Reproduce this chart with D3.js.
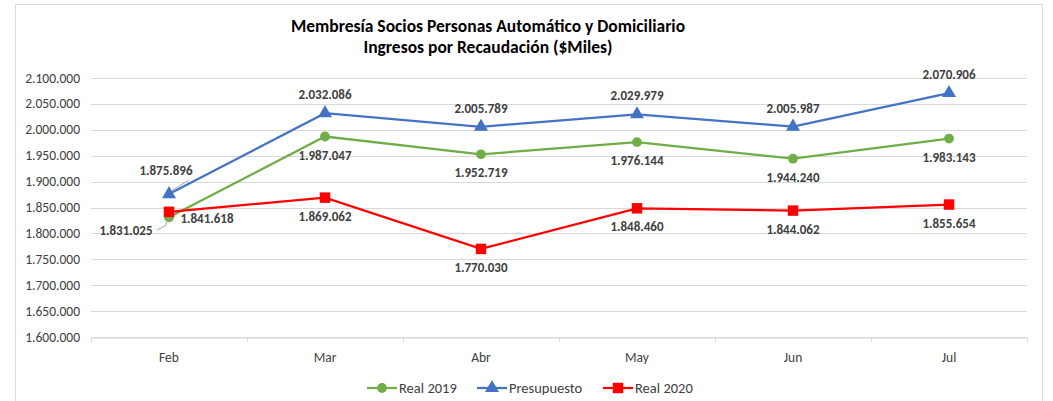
<!DOCTYPE html>
<html>
<head>
<meta charset="utf-8">
<script src="https://cdnjs.cloudflare.com/ajax/libs/d3/7.8.5/d3.min.js"></script>
<style>
  body { margin: 0; background: #fff; }
  svg text { font-family: Calibri, Carlito, "Liberation Sans", Arial, sans-serif; }
</style>
</head>
<body>
<svg id="chart" width="1053" height="401"></svg>
<script>
// data
var months = ["Feb", "Mar", "Abr", "May", "Jun", "Jul"];
var real2019 = [1831025, 1987047, 1952719, 1976144, 1944240, 1983143];
var presupuesto = [1875896, 2032086, 2005789, 2029979, 2005987, 2070906];
var real2020 = [1841618, 1869062, 1770030, 1848460, 1844062, 1855654];
var yTicks = [1600000, 1650000, 1700000, 1750000, 1800000, 1850000, 1900000, 1950000, 2000000, 2050000, 2100000];

var svg = d3.select("#chart");

// chart frame
svg.append("rect")
    .attr("x", 15.5).attr("y", 4.5)
    .attr("width", 1027).attr("height", 400)
    .attr("fill", "#fff").attr("stroke", "#d9d9d9");

var plotLeft = 91, plotRight = 1027, plotTop = 78, plotBottom = 337;

var x = d3.scaleBand().domain(months).range([plotLeft, plotRight]);
var y = d3.scaleLinear().domain([1600000, 2100000]).range([plotBottom, plotTop]);

// format 1.600.000
var fmt = function (v) {
    return d3.format(",")(v).replace(/,/g, ".");
};

// title
var title = svg.append("text")
    .attr("text-anchor", "middle")
    .attr("font-weight", "bold")
    .attr("font-size", 17.5)
    .attr("fill", "#000");
title.append("tspan").attr("x", 488).attr("y", 32).text("Membresía Socios Personas Automático y Domiciliario");
title.append("tspan").attr("x", 488).attr("y", 53).text("Ingresos por Recaudación ($Miles)");

// gridlines
svg.append("g")
    .selectAll("line")
    .data(yTicks)
    .join("line")
    .attr("x1", plotLeft).attr("x2", plotRight)
    .attr("y1", function (d) { return Math.round(y(d)) + 0.5; })
    .attr("y2", function (d) { return Math.round(y(d)) + 0.5; })
    .attr("stroke", "#d9d9d9")
    .attr("stroke-width", 1);

// y labels
svg.append("g")
    .selectAll("text")
    .data(yTicks)
    .join("text")
    .attr("x", 80)
    .attr("y", function (d) { return y(d) + 4.5; })
    .attr("text-anchor", "end")
    .attr("font-size", 13.5)
    .attr("fill", "#404040")
    .text(fmt);

// x axis, ticks at band boundaries
var xAxis = d3.axisBottom(x).tickSize(0).tickPadding(15);
var gx = svg.append("g")
    .attr("transform", "translate(0," + (Math.round(y(1600000)) + 0.5) + ")")
    .call(xAxis);
gx.select(".domain").attr("stroke", "#d9d9d9");
gx.selectAll("text").attr("font-size", 13.5).attr("fill", "#404040")
    .style("font-family", "Calibri, Carlito, 'Liberation Sans', Arial, sans-serif");
gx.selectAll(".sep")
    .data(d3.range(months.length + 1))
    .join("line")
    .attr("class", "sep")
    .attr("x1", function (i) { return Math.round(plotLeft + i * x.bandwidth()) + 0.5; })
    .attr("x2", function (i) { return Math.round(plotLeft + i * x.bandwidth()) + 0.5; })
    .attr("y1", 0).attr("y2", 5)
    .attr("stroke", "#d9d9d9");

var cx = function (d, i) { return x(months[i]) + x.bandwidth() / 2; };

var series = [
    { name: "Real 2019", values: real2019, color: "#70ad47", shape: d3.symbolCircle, size: 75, dy: 23 },
    { name: "Presupuesto", values: presupuesto, color: "#4472c4", shape: d3.symbolTriangle, size: 85, dy: -14 },
    { name: "Real 2020", values: real2020, color: "#ff0000", shape: d3.symbolSquare, size: 110, dy: 23 }
];

// labels that were moved away from the point (Feb)
var labelMoves = {
    "Real 2019-0": { x: 126, y: 235, leader: [[157, 230], [165, 226], [169, 218]] },
    "Presupuesto-0": { x: 166, y: 175, leader: [[189, 180], [171, 191]] },
    "Real 2020-0": { x: 207, y: 223, leader: null }
};

var line = d3.line()
    .x(cx)
    .y(function (d) { return y(d); });

series.forEach(function (s) {
    svg.append("path")
        .datum(s.values)
        .attr("d", line)
        .attr("fill", "none")
        .attr("stroke", s.color)
        .attr("stroke-width", 2.25);
});

series.forEach(function (s) {
    svg.append("g")
        .selectAll("path")
        .data(s.values)
        .join("path")
        .attr("transform", function (d, i) { return "translate(" + cx(d, i) + "," + y(d) + ")"; })
        .attr("d", d3.symbol().type(s.shape).size(s.size))
        .attr("fill", s.color);
});

// data labels
series.forEach(function (s) {
    s.values.forEach(function (v, i) {
        var mv = labelMoves[s.name + "-" + i];
        var lx = mv ? mv.x : cx(v, i);
        var ly = mv ? mv.y : y(v) + s.dy;
        if (mv && mv.leader) {
            svg.append("path")
                .attr("d", d3.line()(mv.leader))
                .attr("fill", "none")
                .attr("stroke", "#a6a6a6")
                .attr("stroke-width", 1);
        }
        svg.append("text")
            .attr("x", lx).attr("y", ly)
            .attr("text-anchor", "middle")
            .attr("font-size", 13)
            .attr("font-weight", "bold")
            .attr("fill", "#404040")
            .text(fmt(v));
    });
});

// legend
var legX = [367, 477, 603];
series.forEach(function (s, i) {
    var g = svg.append("g").attr("transform", "translate(" + legX[i] + ",388)");
    g.append("line").attr("x1", 0).attr("x2", 30).attr("y1", 0).attr("y2", 0)
        .attr("stroke", s.color).attr("stroke-width", 2.25);
    g.append("path").attr("transform", "translate(15,0)")
        .attr("d", d3.symbol().type(s.shape).size(s.size))
        .attr("fill", s.color);
    g.append("text").attr("x", 32).attr("y", 5)
        .attr("font-size", 14.5).attr("fill", "#404040")
        .text(s.name);
});
</script>
</body>
</html>
